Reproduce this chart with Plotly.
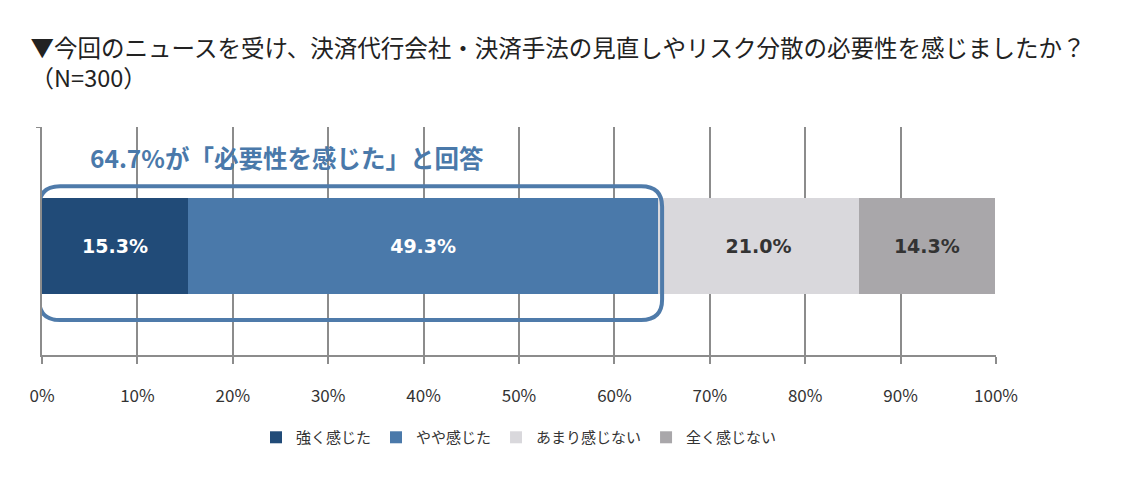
import plotly.graph_objects as go

categories = ["強く感じた", "やや感じた", "あまり感じない", "全く感じない"]
values = [15.3, 49.3, 21.0, 14.3]
colors = ["#214B78", "#4A79AA", "#D9D8DC", "#A9A7AA"]
text_colors = ["#FFFFFF", "#FFFFFF", "#333333", "#333333"]
tick_vals = [0, 10, 20, 30, 40, 50, 60, 70, 80, 90, 100]
tick_text = [f"{v}%" for v in tick_vals]
title_text = "▼今回のニュースを受け、決済代行会社・決済手法の見直しやリスク分散の必要性を感じましたか？<br>（N=300）"
highlight_text = "64.7%が「必要性を感じた」と回答"
highlight_total = 64.7

FONT = "Noto Sans CJK JP"

fig = go.Figure()
for cat, v, c, tc in zip(categories, values, colors, text_colors):
    fig.add_trace(go.Bar(
        x=[v], y=[0], orientation="h", name=cat,
        marker=dict(color=c, line=dict(width=0)),
        width=0.425,
        text=[f"{v:.1f}%"], textposition="inside", insidetextanchor="middle",
        textfont=dict(family="DejaVu Sans", size=19, color=tc, weight="bold"),
        hoverinfo="skip",
    ))

# rounded highlight box around the "felt necessary" share
x0, x1 = -0.3, highlight_total + 0.3
y0, y1 = -0.325, 0.262
rx, ry = 2.2, 0.09
path = (f"M {x0+rx},{y1} L {x1-rx},{y1} Q {x1},{y1} {x1},{y1-ry} "
        f"L {x1},{y0+ry} Q {x1},{y0} {x1-rx},{y0} "
        f"L {x0+rx},{y0} Q {x0},{y0} {x0},{y0+ry} "
        f"L {x0},{y1-ry} Q {x0},{y1} {x0+rx},{y1} Z")
fig.add_shape(type="path", path=path, xref="x", yref="y",
              line=dict(color="#4F7BAA", width=4), fillcolor="rgba(0,0,0,0)")

fig.add_annotation(text=highlight_text, x=4.8, y=0.39, xref="x", yref="y",
                   xanchor="left", yanchor="middle", showarrow=False,
                   font=dict(family=FONT, size=24.5, color="#4A79AA", weight="bold"))

fig.update_layout(
    barmode="stack",
    width=1134, height=480,
    margin=dict(l=42, r=138, t=127, b=125),
    plot_bgcolor="white", paper_bgcolor="white",
    title=dict(text=title_text, x=0.027, xanchor="left", y=0.882, yanchor="top",
               font=dict(family=FONT, size=23.5, color="#222222")),
    xaxis=dict(range=[0, 100], tickvals=tick_vals, ticktext=tick_text,
               showgrid=True, gridcolor="#8C8C8C", gridwidth=1.5,
               showline=True, linecolor="#8C8C8C", linewidth=1.5,
               ticks="outside", ticklen=7, tickcolor="#8C8C8C", tickwidth=1.5,
               ticklabelstandoff=18,
               tickfont=dict(family=FONT, size=17, color="#333333"),
               zeroline=False, fixedrange=True),
    yaxis=dict(range=[-0.478, 0.522], showticklabels=False, showgrid=False,
               zeroline=False, showline=True, linecolor="#8C8C8C", linewidth=1.5,
               ticks="outside", tickvals=[0.522], ticklen=4, tickcolor="#8C8C8C"),
    legend=dict(orientation="h", x=0.5, xanchor="center", y=-0.362, yanchor="middle",
                font=dict(family=FONT, size=15, color="#333333"),
                itemwidth=30, traceorder="normal", itemclick=False),
    showlegend=True,
    font=dict(family=FONT),
)

fig.write_html("out.html")
